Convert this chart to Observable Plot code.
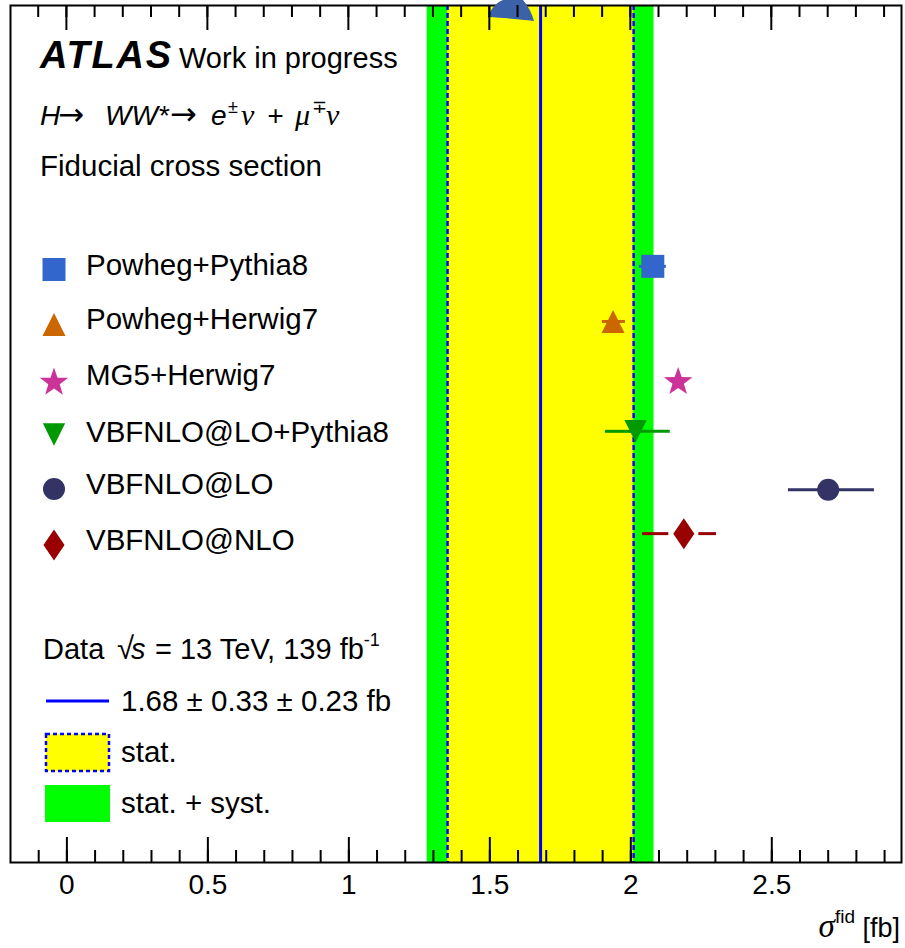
<!DOCTYPE html>
<html>
<head>
<meta charset="utf-8">
<script src="https://cdn.jsdelivr.net/npm/d3@7"></script>
<script src="https://cdn.jsdelivr.net/npm/@observablehq/plot@0.6"></script>
<style>
  html, body { margin: 0; padding: 0; background: #fff; }
  #chart svg { display: block; }
</style>
</head>
<body>
<div id="chart"></div>
<script>
// ---------------- data ----------------
const models = ["Powheg+Pythia8", "Powheg+Herwig7", "MG5+Herwig7", "VBFNLO@LO+Pythia8", "VBFNLO@LO", "VBFNLO@NLO"];
const xsec    = [2.078, 1.937, 2.168, 2.017, 2.700, 2.188];
const errDown = [0.048, 0.038, 0.000, 0.107, 0.141, 0.146];
const errUp   = [0.048, 0.044, 0.000, 0.123, 0.164, 0.116];
const rowPos  = [4.87, 5.90, 7.00, 7.95, 9.04, 9.86];

const dataValue = 1.68;
const dataStat = 0.33;
const dataSyst = 0.23;

const majorTicks = [0, 0.5, 1, 1.5, 2, 2.5];
const majorTickLabels = ["0", "0.5", "1", "1.5", "2", "2.5"];
const minorTicks = d3.range(-1, 30).map(i => i / 10);

// ---------------- layout / styles ----------------
const W = 905, H = 948, MT = 5, MB = 86, ML = 10, MR = 4;
const xDomain = [-0.2, 2.96];
const frameH = H - MT - MB;
const minorLen = 12, majorLen = 25;

function sym(drawFn) { return { draw(ctx, size) { drawFn(ctx, Math.sqrt(size / Math.PI)); } }; }
const squareSym = sym((c, r) => { c.moveTo(-r, -r); c.lineTo(r, -r); c.lineTo(r, r); c.lineTo(-r, r); c.closePath(); });
const triUpSym = sym((c, r) => { c.moveTo(0, -r); c.lineTo(r, r); c.lineTo(-r, r); c.closePath(); });
const triDownSym = sym((c, r) => { c.moveTo(-r, -r); c.lineTo(r, -r); c.lineTo(0, r); c.closePath(); });
const starSym = sym((c, r) => {
  const ri = r * 0.40;
  for (let k = 0; k < 10; ++k) {
    const a = -Math.PI / 2 + k * Math.PI / 5, rr = k % 2 ? ri : r;
    const px = rr * Math.cos(a), py = rr * Math.sin(a) + r * 0.1;
    k ? c.lineTo(px, py) : c.moveTo(px, py);
  }
  c.closePath();
});
const circleSym = sym((c, r) => { c.moveTo(r, 0); c.arc(0, 0, r, 0, 2 * Math.PI); });
const diamondSym = sym((c, r) => { const w = r * 0.68; c.moveTo(0, -r); c.lineTo(w, 0); c.lineTo(0, r); c.lineTo(-w, 0); c.closePath(); });

const styles = [
  { symbol: squareSym,  r: 11.5, color: "#3366cc", gap: 0 },
  { symbol: triUpSym,   r: 11.5, color: "#cc6600", gap: 0 },
  { symbol: starSym,    r: 15,   color: "#cc3399", gap: 0 },
  { symbol: triDownSym, r: 11.2, color: "#009900", gap: 0 },
  { symbol: circleSym,  r: 11,   color: "#333366", gap: 0 },
  { symbol: diamondSym, r: 15.5, color: "#990000", gap: 15 }
];

const rows = models.map((m, i) => ({
  model: m, x: xsec[i], lo: xsec[i] - errDown[i], hi: xsec[i] + errUp[i], y: rowPos[i]
}));
const total = Math.hypot(dataStat, dataSyst);

const FONT = "'Liberation Sans', Arial, Helvetica, sans-serif";

const plot = Plot.plot({
  width: W,
  height: H,
  marginLeft: ML,
  marginRight: MR,
  marginTop: MT,
  marginBottom: MB,
  style: { background: "#fff", fontFamily: FONT, overflow: "visible" },
  x: { domain: xDomain },
  y: { domain: [0, 16], reverse: true, axis: null },
  marks: [
    Plot.rect([{ x1: dataValue - total, x2: dataValue + total }], { x1: "x1", x2: "x2", fill: "#00ff00" }),
    Plot.rect([{ x1: dataValue - dataStat, x2: dataValue + dataStat }], { x1: "x1", x2: "x2", fill: "#ffff00" }),
    Plot.ruleX([dataValue - dataStat, dataValue + dataStat], { x: d => d, stroke: "#0000ff", strokeWidth: 2.5, strokeDasharray: "5,3" }),
    Plot.ruleX([dataValue], { x: d => d, stroke: "#0000ff", strokeWidth: 3 }),
    ...rows.flatMap((row, i) => [
      Plot.ruleY([row], { x1: "lo", x2: "x", y: "y", stroke: styles[i].color, strokeWidth: 3, insetRight: styles[i].gap }),
      Plot.ruleY([row], { x1: "x", x2: "hi", y: "y", stroke: styles[i].color, strokeWidth: 3, insetLeft: styles[i].gap }),
      Plot.dot([row], { x: "x", y: "y", symbol: styles[i].symbol, r: styles[i].r, fill: styles[i].color, stroke: "none" })
    ]),
    // bottom tick marks (inside the frame)
    Plot.ruleX(minorTicks, { x: d => d, stroke: "#000", strokeWidth: 2, insetTop: frameH - minorLen }),
    Plot.ruleX(majorTicks, { x: d => d, stroke: "#000", strokeWidth: 2, insetTop: frameH - majorLen }),
    Plot.axisX({ anchor: "bottom", ticks: majorTicks, tickSize: 0, tickPadding: 12,
      tickFormat: d => majorTickLabels[majorTicks.indexOf(d)], fontSize: 28, label: null }),
    Plot.frame({ stroke: "#000", strokeWidth: 2 })
  ]
});

document.getElementById("chart").appendChild(plot);

// ---------------- annotations (text, legend) ----------------
const svg = d3.select(plot);
const g = svg.append("g").attr("font-family", FONT).attr("fill", "#000").attr("text-anchor", "start");

// artifact blob at top
g.append("path")
  .attr("d", "M488,17 C491,8 497,2 503,0 L523,0 C529,7 532,14 534,21 C520,19 502,18 488,17 Z")
  .attr("fill", "#3b62a8");

// Header
const t1 = g.append("text").attr("x", 40).attr("y", 68);
t1.append("tspan").attr("font-weight", "bold").attr("font-style", "italic").attr("font-size", 38)
  .attr("letter-spacing", 1.8).text("ATLAS");
t1.append("tspan").attr("x", 179).attr("font-size", 29).attr("letter-spacing", 0).text("Work in progress");

const t2 = g.append("text").attr("y", 125).attr("font-size", 28);
const SERIF = "'Liberation Serif', 'Times New Roman', serif";
const ARROW = "'DejaVu Sans', sans-serif";
t2.append("tspan").attr("x", 40).attr("font-style", "italic").text("H");
t2.append("tspan").attr("x", 58).attr("font-family", ARROW).attr("font-size", 31).text("→");
t2.append("tspan").attr("x", 105).attr("font-style", "italic").text("WW*");
t2.append("tspan").attr("x", 170).attr("font-family", ARROW).attr("font-size", 32).text("→");
t2.append("tspan").attr("x", 211).attr("font-style", "italic").text("e");
t2.append("tspan").attr("x", 228).attr("dy", -12).attr("font-size", 18).text("±");
t2.append("tspan").attr("x", 241).attr("dy", 12).attr("font-family", SERIF).attr("font-style", "italic").attr("font-size", 30).text("ν");
t2.append("tspan").attr("x", 267).attr("font-style", "italic").text("+");
t2.append("tspan").attr("x", 295).attr("font-family", SERIF).attr("font-style", "italic").attr("font-size", 30).text("μ");
t2.append("tspan").attr("x", 312).attr("dy", -12).attr("font-size", 18).text("∓");
t2.append("tspan").attr("x", 326).attr("dy", 12).attr("font-family", SERIF).attr("font-style", "italic").attr("font-size", 30).text("ν");

g.append("text").attr("x", 40).attr("y", 176).attr("font-size", 29.5).text("Fiducial cross section");

// Model legend
const legendMarkerY = [269.5, 324.5, 381, 434.5, 489, 545];
const legendTextY = [275, 329, 385, 442, 494, 550];
models.forEach((m, i) => {
  const p = d3.path();
  styles[i].symbol.draw(p, styles[i].r * styles[i].r * Math.PI);
  g.append("path").attr("d", p.toString())
    .attr("transform", `translate(54,${legendMarkerY[i]})`)
    .attr("fill", styles[i].color);
  g.append("text").attr("x", 86).attr("y", legendTextY[i]).attr("font-size", 29.5).text(m);
});

// Data legend
const td = g.append("text").attr("y", 659).attr("font-size", 29);
td.append("tspan").attr("x", 43).text("Data");
td.append("tspan").attr("x", 117).attr("font-size", 31).text("√");
td.append("tspan").attr("x", 131).attr("font-style", "italic").text("s");
td.append("tspan").attr("x", 155).text("= 13 TeV, 139 fb");
td.append("tspan").attr("dy", -13).attr("font-size", 18).text("-1");

g.append("line").attr("x1", 46).attr("x2", 109).attr("y1", 701).attr("y2", 701)
  .attr("stroke", "#0000ff").attr("stroke-width", 3);
g.append("text").attr("x", 121).attr("y", 711).attr("font-size", 29.5)
  .text(`${dataValue.toFixed(2)} ± ${dataStat.toFixed(2)} ± ${dataSyst.toFixed(2)} fb`);

g.append("rect").attr("x", 46).attr("y", 734).attr("width", 63).attr("height", 37)
  .attr("fill", "#ffff00").attr("stroke", "#0000ff").attr("stroke-width", 2.5).attr("stroke-dasharray", "4,3");
g.append("text").attr("x", 121).attr("y", 762).attr("font-size", 29.5).text("stat.");

g.append("rect").attr("x", 45).attr("y", 785).attr("width", 65).attr("height", 37).attr("fill", "#00ff00");
g.append("text").attr("x", 121).attr("y", 813).attr("font-size", 29.5).text("stat. + syst.");

// Axis title
const ta = g.append("text").attr("x", 900).attr("y", 937).attr("text-anchor", "end");
ta.append("tspan").attr("font-family", SERIF).attr("font-style", "italic").attr("font-size", 33).text("σ");
ta.append("tspan").attr("dy", -14).attr("font-size", 19).text("fid");
ta.append("tspan").attr("dy", 14).attr("font-size", 27).text(" [fb]");

// top tick marks, pointing down into the frame, positioned with Plot's x scale (drawn last)
let xPos;
try {
  const xs = plot.scale("x");
  xPos = v => xs.apply(v);
  if (!isFinite(xPos(0))) throw new Error("bad scale");
} catch (e) {
  const fallback = d3.scaleLinear(xDomain, [ML, W - MR]);
  xPos = v => fallback(v);
}
const topTicks = svg.append("g").attr("stroke", "#000").attr("stroke-width", 2).attr("fill", "none");
[[minorTicks, minorLen], [majorTicks, majorLen]].forEach(([ticks, len]) => {
  ticks.forEach(v => {
    const px = xPos(v);
    topTicks.append("path").attr("d", `M${px},${MT}V${MT + len}`);
  });
});
</script>
</body>
</html>
